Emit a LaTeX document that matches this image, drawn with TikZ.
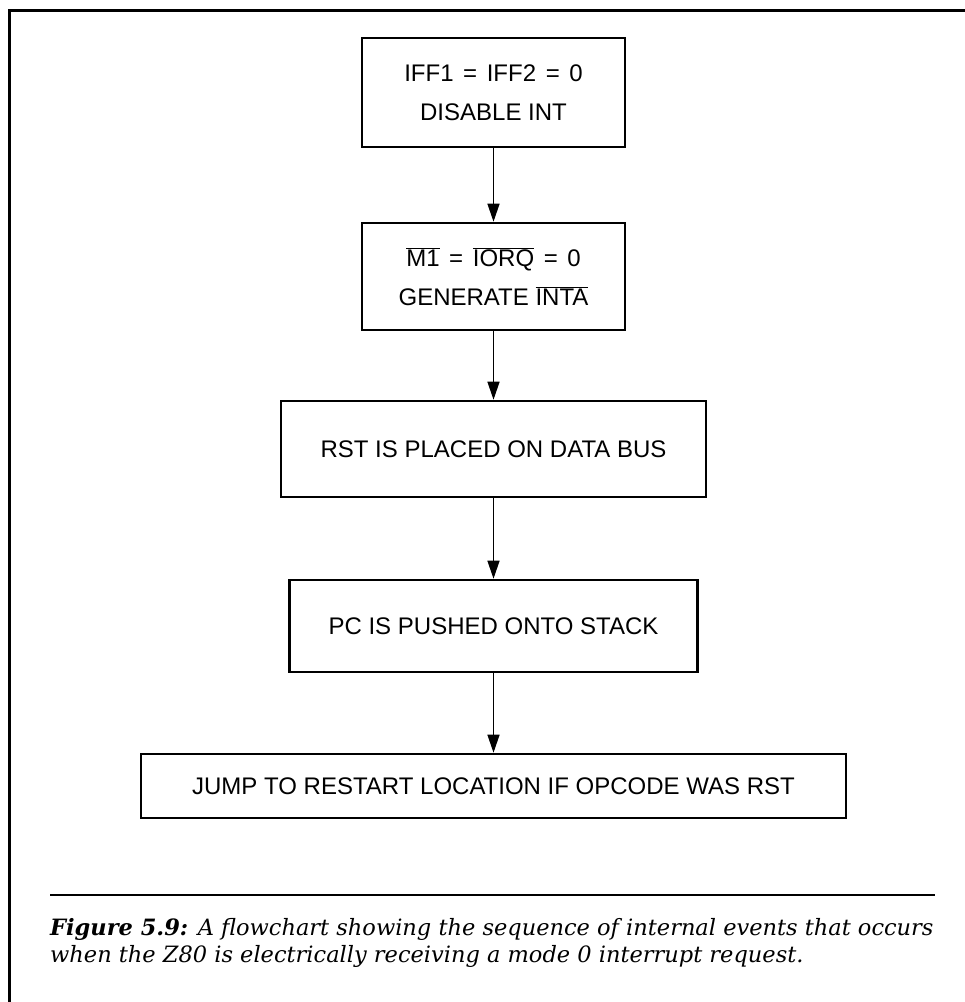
\documentclass[tikz,border=0pt]{standalone}
\usepackage{fontspec}
\setmainfont{Liberation Sans}
\newfontfamily\capfont{DejaVu Serif}
\usetikzlibrary{arrows.meta}
\tikzset{
  stepbox/.style={draw, line width=2.6pt, align=center, inner sep=0pt,
    font=\fontsize{24}{39}\selectfont},
  flow/.style={-{Triangle[length=18pt,width=12pt]}, line width=1.4pt}
}
\newcommand{\negsig}[1]{$\overline{\hbox{#1}}$}
\newcommand{\eqsp}{\hspace{0.4em}=\hspace{0.4em}}
\begin{document}
\begin{tikzpicture}[x=1pt,y=-1pt]
\useasboundingbox (0,0) rectangle (965,1002);
% frame and caption rule
\draw[line width=3pt] (9,1002) -- (9,10) -- (965,10);
\draw[line width=1.6pt] (50,895) -- (935,895);
\node[stepbox, minimum width=263pt, minimum height=109pt] (iff) at (493.5,92.5) {IFF1\eqsp IFF2\eqsp 0\\DISABLE INT};
\node[stepbox, minimum width=263pt, minimum height=107pt] (ack) at (493.5,276.5) {\negsig{M1}\eqsp\negsig{IORQ}\eqsp 0\\GENERATE \negsig{INTA}};
\node[stepbox, minimum width=425pt, minimum height=96pt] (rst) at (493.5,449) {RST IS PLACED ON DATA BUS};
\node[stepbox, minimum width=408pt, minimum height=92pt] (push) at (493.5,626) {PC IS PUSHED ONTO STACK};
\node[stepbox, minimum width=705pt, minimum height=64pt] (jump) at (493.5,786) {JUMP TO RESTART LOCATION IF OPCODE WAS RST};
\draw[flow] (iff) -- (ack);
\draw[flow] (ack) -- (rst);
\draw[flow] (rst) -- (push);
\draw[flow] (push) -- (jump);
% caption
\node[anchor=north west, align=left, inner sep=0pt, font=\capfont\itshape\fontsize{22.5}{27}\selectfont] (cap) at (50,918)
  {\textbf{Figure 5.9:} A flowchart showing the sequence of internal events that occurs\\
   when the Z80 is electrically receiving a mode 0 interrupt request.};
\end{tikzpicture}
\end{document}
